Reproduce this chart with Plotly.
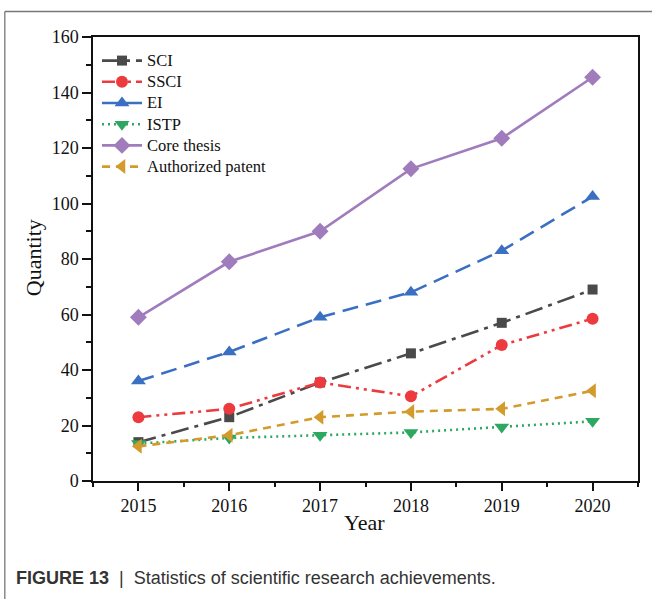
import plotly.graph_objects as go

years = [2015, 2016, 2017, 2018, 2019, 2020]
sci = [14, 23, 35.5, 46, 57, 69]
ssci = [23, 26, 35.5, 30.5, 49, 58.5]
ei = [36, 46.5, 59, 68, 83, 102.5]
istp = [13.5, 15.5, 16.5, 17.5, 19.5, 21.5]
core = [59, 79, 90, 112.5, 123.5, 145.5]
patent = [12.5, 16.5, 23, 25, 26, 32.5]

series = [
    ("SCI", sci, "#4a4a4a", "18px,6px,4px,6px", "square", 10),
    ("SSCI", ssci, "#ec3a3f", "13px,5px,3px,5px,3px,5px", "circle", 12),
    ("EI", ei, "#3a6fc2", "16px,8px", "triangle-up", 13),
    ("ISTP", istp, "#2ea860", "2px,4px", "triangle-down", 13),
    ("Core thesis", core, "#a07cbd", "solid", "diamond", 13),
    ("Authorized patent", patent, "#d29b2b", "8px,6px", "triangle-left", 13),
]

fig = go.Figure()
for name, vals, color, dash, sym, size in series:
    fig.add_trace(go.Scatter(
        x=years, y=vals, mode="lines+markers",
        name="<span style='font-size:16.5px'>" + name + "</span>",
        line=dict(color=color, width=2.6, dash=dash),
        marker=dict(symbol=sym, size=size, color=color),
    ))

W, H = 652, 599
L, R, T, B = 93, 640, 37, 481

def px(x):
    return (x - L) / (R - L)

def py(y):
    return (B - y) / (B - T)

serif = "Liberation Serif, Times New Roman, serif"
axis_font = dict(family=serif, size=18, color="#111")

fig.update_layout(
    width=W, height=H,
    margin=dict(l=L, r=W - R, t=T, b=H - B),
    paper_bgcolor="white", plot_bgcolor="white",
    showlegend=True,
    legend=dict(
        x=px(97), y=py(45), xanchor="left", yanchor="top",
        bgcolor="rgba(0,0,0,0)", borderwidth=0,
        font=dict(family=serif, size=14, color="#111"),
        tracegroupgap=0, itemwidth=40,
    ),
    xaxis=dict(
        range=[2014.5, 2020.5], tickvals=years, ticktext=[str(y) for y in years],
        showgrid=False, zeroline=False,
        showline=True, linecolor="#111", linewidth=1.5, mirror=True,
        ticks="outside", ticklen=8, tickwidth=1.5, tickcolor="#111",
        minor=dict(tickvals=[2014.5 + i for i in range(7)], ticks="outside", ticklen=4, tickwidth=1.5, tickcolor="#111"),
        tickfont=axis_font,
    ),
    yaxis=dict(
        range=[0, 160], tickvals=list(range(0, 161, 20)),
        showgrid=False, zeroline=False,
        showline=True, linecolor="#111", linewidth=1.5, mirror=True,
        ticks="outside", ticklen=9, tickwidth=1.5, tickcolor="#111",
        minor=dict(tickvals=list(range(10, 160, 20)), ticks="outside", ticklen=5, tickwidth=1.5, tickcolor="#111"),
        tickfont=axis_font,
    ),
)

fig.add_annotation(text="Year", x=px(365), y=py(522), xref="paper", yref="paper",
                   showarrow=False, xanchor="center", yanchor="middle",
                   font=dict(family=serif, size=22, color="#111"))
fig.add_annotation(text="Quantity", x=px(33), y=py(258), xref="paper", yref="paper",
                   showarrow=False, xanchor="center", yanchor="middle", textangle=-90,
                   font=dict(family=serif, size=22, color="#111"))
fig.add_annotation(text="<b>FIGURE 13</b>  |  Statistics of scientific research achievements.",
                   x=px(14), y=py(578), xref="paper", yref="paper",
                   showarrow=False, xanchor="left", yanchor="middle",
                   font=dict(family="Liberation Sans, Arial, sans-serif", size=18, color="#333"))

# outer frame lines (top and left)
fig.add_shape(type="line", xref="paper", yref="paper", x0=px(4.5), x1=px(660), y0=py(11.5), y1=py(11.5),
              line=dict(color="#777777", width=1.3))
fig.add_shape(type="line", xref="paper", yref="paper", x0=px(4.5), x1=px(4.5), y0=py(11.5), y1=py(610),
              line=dict(color="#777777", width=1.3))

fig.write_html("out.html", config={"displayModeBar": False},
               post_script="document.body.style.margin='0';document.body.style.overflow='hidden';")
